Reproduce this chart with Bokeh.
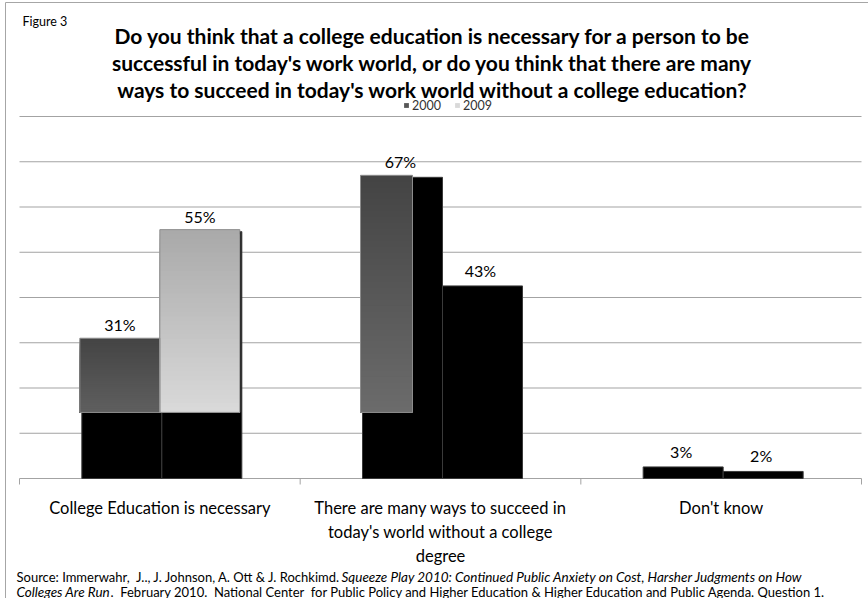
import numpy as np
from bokeh.plotting import figure
from bokeh.models import (Range1d, Label, LabelSet, ColumnDataSource, Legend, LegendItem)
from bokeh.core.properties import value
from bokeh.embed import file_html
from bokeh.resources import INLINE

# ---------------- data ----------------
figure_tag = "Figure 3"
title_lines = [
    "Do you think that a college education is necessary for a person to be",
    "successful in today's work world, or do you think that there are many",
    "ways to succeed in today's work world without a college education?",
]
categories = [
    "College Education is necessary",
    "There are many ways to succeed in today's world without a college degree",
    "Don't know",
]
category_lines = [
    ["College Education is necessary"],
    ["There are many ways to succeed in", "today's world without a college", "degree"],
    ["Don't know"],
]
series_names = ["2000", "2009"]
pct_2000 = [31, 67, 3]
pct_2009 = [55, 43, 2]
y_ticks = [0, 10, 20, 30, 40, 50, 60, 70, 80]
source_line1 = [
    ("Source: Immerwahr,\u00a0 J.., J. Johnson, A. Ott & J. Rochkimd.", "normal"),
    ("Squeeze Play 2010: Continued Public Anxiety on Cost, Harsher Judgments on How", "italic"),
]
source_line2 = [
    ("Colleges Are Run", "italic"),
    (".\u00a0 February 2010.\u00a0 National Center\u00a0 for Public Policy and Higher Education & Higher Education and Public Agenda. Question 1.", "normal"),
]

# ---------------- layout (pixel positions of the plot area) ----------------
W, H = 868, 598
PL, PR, PT, PB = 19, 861, 116, 478      # plot area edges in pixels
XMAX, YMAX = 3.0, 80.0
XPX, YPX = (PR - PL) / XMAX, (PB - PT) / YMAX
FONT = "Lato"
GRID = "#a3a3a3"


def dx(px):  # pixel x -> data x
    return (px - PL) / XPX


def dy(py):  # pixel y (from top) -> data y
    return (PB - py) / YPX


p = figure(width=W, height=H, output_backend="svg", toolbar_location=None,
           x_range=Range1d(dx(0), dx(W)), y_range=Range1d(dy(H), dy(0)),
           min_border=0)
p.outline_line_color = None
p.background_fill_color = "white"
p.border_fill_color = "white"
p.xaxis.visible = False
p.yaxis.visible = False
p.xgrid.visible = False
p.ygrid.visible = False

# horizontal gridlines over the plot area (the 0 line is the category axis)
p.segment(x0=0, x1=XMAX, y0=y_ticks, y1=y_ticks, line_color=GRID, line_width=1)

# outer chart border (top and left edges visible in the original)
p.segment(x0=[dx(5), dx(5)], y0=[dy(2), dy(2)], x1=[dx(W), dx(5)], y1=[dy(2), dy(H)],
          line_color="#a6a6a6", line_width=1)

# category separator ticks
ncat = len(categories)
tick_x = list(range(ncat + 1))
p.segment(x0=tick_x, x1=tick_x, y0=0, y1=-6 / YPX, line_color=GRID, line_width=1)

bar_w = 80 / XPX
centers = np.arange(ncat) + 0.5
series_vals = [np.array(pct_2000, float), np.array(pct_2009, float)]
series_x = [centers - bar_w / 2, centers + bar_w / 2]

# black "shadow" bars (as rendered in the original)
sdx, sdy = 2 / XPX, 2 / YPX
for xs, vals in zip(series_x, series_vals):
    p.vbar(x=xs + sdx, top=vals - sdy, bottom=0, width=bar_w,
           fill_color="black", line_color="#3a3a3a", line_width=1)

# gradient faces for the bars that show them
floor_level = 14.6
overlays = [  # (series index, category index, width fraction, top colour, base colour)
    (0, 0, 1.0, (0x44, 0x44, 0x44), (0x77, 0x77, 0x77)),
    (1, 0, 1.0, (0xa9, 0xa9, 0xa9), (0xeb, 0xeb, 0xeb)),
    (0, 1, 0.65, (0x44, 0x44, 0x44), (0x77, 0x77, 0x77)),
]
nb = 40
bx, bw, bt, bc = [], [], [], []
ox, ow, ot = [], [], []
for si, ci, wf, ctop, cbase in overlays:
    v = series_vals[si][ci]
    left = series_x[si][ci] - bar_w / 2
    w = bar_w * wf
    xc = left + w / 2
    for k in range(nb, 0, -1):  # tallest first, shorter ones painted on top
        b1 = floor_level + (v - floor_level) * k / nb
        b0 = floor_level + (v - floor_level) * (k - 1) / nb
        t = ((b0 + b1) / 2) / v
        col = tuple(int(round(cb + (ct - cb) * t)) for ct, cb in zip(ctop, cbase))
        bx.append(xc); bw.append(w); bt.append(b1)
        bc.append("#%02x%02x%02x" % col)
    ox.append(xc); ow.append(w); ot.append(v)
bands = p.vbar(x=bx, width=bw, bottom=floor_level, top=bt, fill_color=bc, line_color=None)
p.vbar(x=ox, width=ow, bottom=floor_level, top=ot, fill_color=None,
       line_color="#8c8c8c", line_width=1)

# legend: keys taken from the gradient faces of each series
legend = Legend(items=[LegendItem(label=series_names[0], renderers=[bands], index=nb - 12),
                       LegendItem(label=series_names[1], renderers=[bands], index=2 * nb - 1)],
                orientation="horizontal", location=(403, H - 115),
                glyph_width=6, glyph_height=6, label_standoff=3, spacing=13,
                padding=0, margin=0, border_line_color=None, background_fill_alpha=0,
                label_text_font=FONT, label_text_font_size="12.5px",
                label_text_color="#333333", label_height=20)
p.add_layout(legend, "center")

# value labels
lab_x, lab_y, lab_t = [], [], []
for xs, vals in zip(series_x, series_vals):
    for x, v in zip(xs, vals):
        lab_x.append(x); lab_y.append(v + 13.5 / YPX); lab_t.append("%d%%" % v)
p.add_layout(LabelSet(x="x", y="y", text="t",
                      source=ColumnDataSource(dict(x=lab_x, y=lab_y, t=lab_t)),
                      text_align="center", text_baseline="middle",
                      text_font=value(FONT), text_font_size="16px", text_color="black"))

# category labels
cat_line_y = [507, 531, 555]
for c, lines in zip(centers, category_lines):
    for j, line in enumerate(lines):
        p.add_layout(Label(x=c, y=dy(cat_line_y[j]), text=line, text_align="center",
                           text_baseline="middle", text_font=FONT, text_font_size="16.5px",
                           text_color="black"))

# title
p.add_layout(Label(x=dx(22), y=dy(21), text=figure_tag, text_align="left",
                   text_baseline="middle", text_font=FONT, text_font_size="12.5px",
                   text_color="black"))
for j, line in enumerate(title_lines):
    p.add_layout(Label(x=dx(432), y=dy(35 + 27 * j), text=line, text_align="center",
                       text_baseline="middle", text_font=FONT, text_font_size="21px",
                       text_font_style="bold", text_color="black"))

# source
src_rows = [(source_line1, 576, [16, 341]), (source_line2, 591, [16, 110])]
for segs, yy, xs in src_rows:
    for (txt, style), x0 in zip(segs, xs):
        p.add_layout(Label(x=dx(x0), y=dy(yy), text=txt, text_align="left",
                           text_baseline="middle", text_font=FONT,
                           text_font_size="13.5px" if style == "italic" else "13px",
                           text_font_style=style, text_color="black"))

open("out.html", "w").write(file_html(p, INLINE))
